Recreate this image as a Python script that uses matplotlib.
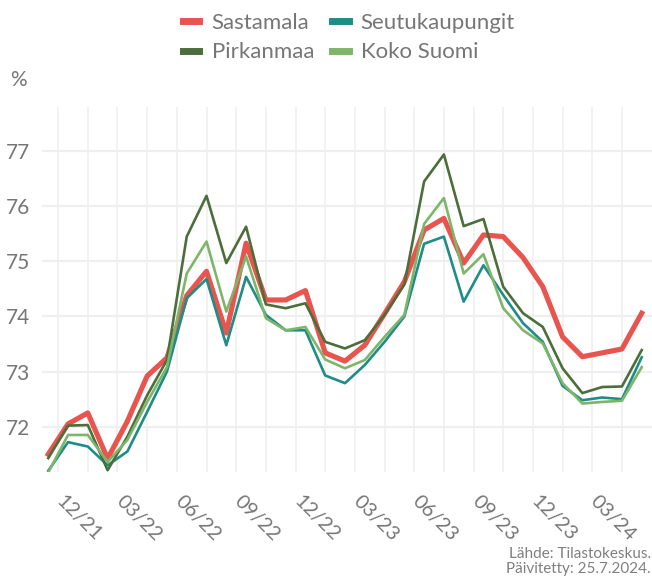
import matplotlib
matplotlib.use("Agg")
import matplotlib.pyplot as plt
from matplotlib.lines import Line2D
from matplotlib.transforms import ScaledTranslation

plt.rcParams['font.family'] = ['Lato', 'DejaVu Sans']

# Monthly employment rate (%), 12/2021 - 06/2024
months = ["12/21", "01/22", "02/22", "03/22", "04/22", "05/22", "06/22", "07/22",
          "08/22", "09/22", "10/22", "11/22", "12/22", "01/23", "02/23", "03/23",
          "04/23", "05/23", "06/23", "07/23", "08/23", "09/23", "10/23", "11/23",
          "12/23", "01/24", "02/24", "03/24", "04/24", "05/24", "06/24"]

sastamala = [71.50, 72.05, 72.25, 71.42, 72.10, 72.92, 73.25, 74.38, 74.82, 73.70,
             75.33, 74.30, 74.30, 74.47, 73.34, 73.19, 73.48, 74.05, 74.63, 75.57,
             75.78, 74.97, 75.48, 75.45, 75.07, 74.54, 73.63, 73.27, 73.34, 73.41,
             74.06]
seutukaupungit = [71.20, 71.72, 71.64, 71.30, 71.55, 72.27, 73.00, 74.33, 74.68, 73.48,
                  74.72, 74.03, 73.75, 73.75, 72.93, 72.79, 73.12, 73.54, 74.00, 75.32,
                  75.45, 74.27, 74.93, 74.39, 73.88, 73.54, 72.74, 72.48, 72.53, 72.50,
                  73.26]
pirkanmaa = [71.43, 72.02, 72.03, 71.21, 71.82, 72.57, 73.21, 75.45, 76.19, 74.97,
             75.63, 74.22, 74.15, 74.24, 73.54, 73.42, 73.57, 74.03, 74.58, 76.45,
             76.94, 75.64, 75.77, 74.54, 74.06, 73.81, 73.06, 72.61, 72.72, 72.73,
             73.39]
koko_suomi = [71.17, 71.85, 71.85, 71.36, 71.76, 72.45, 73.08, 74.78, 75.36, 74.09,
              75.09, 73.97, 73.75, 73.81, 73.22, 73.06, 73.21, 73.63, 74.03, 75.68,
              76.15, 74.78, 75.13, 74.15, 73.75, 73.51, 72.79, 72.42, 72.45, 72.47,
              73.08]

tick_labels = ["12/21", "03/22", "06/22", "09/22", "12/22",
               "03/23", "06/23", "09/23", "12/23", "03/24"]
y_ticks = [72, 73, 74, 75, 76, 77]

colors = {
    "Sastamala": "#E8544E",
    "Seutukaupungit": "#1F8C87",
    "Pirkanmaa": "#4C6E3B",
    "Koko Suomi": "#7DB66B",
}
text_color = "#767676"
grid_color = "#EFEFEF"

fig = plt.figure(figsize=(6.52, 5.79), dpi=100)
ax = fig.add_axes([0.064, 0.185, 0.936, 0.630])

x = list(range(len(months)))
ax.plot(x, sastamala, color=colors["Sastamala"], lw=3.7, zorder=3)
ax.plot(x, seutukaupungit, color=colors["Seutukaupungit"], lw=1.9, zorder=4)
ax.plot(x, pirkanmaa, color=colors["Pirkanmaa"], lw=1.9, zorder=5)
ax.plot(x, koko_suomi, color=colors["Koko Suomi"], lw=1.9, zorder=6)

ax.set_xlim(-0.33, 30.52)
ax.set_ylim(71.18, 77.80)

# quarterly ticks sit between months; minor grid halfway between them
major_pos = [0.5 + 3 * k for k in range(len(tick_labels))]
minor_pos = [2 + 3 * k for k in range(len(tick_labels))]
ax.set_xticks(major_pos)
ax.set_xticklabels(tick_labels)
ax.set_xticks(minor_pos, minor=True)
ax.set_yticks(y_ticks)

for p in major_pos + minor_pos:
    ax.axvline(p, color=grid_color, lw=1.1, zorder=1)
for v in y_ticks:
    ax.axhline(v, color=grid_color, lw=1.6, zorder=1)

for s in ax.spines.values():
    s.set_visible(False)
ax.tick_params(axis="both", which="both", length=0)
ax.tick_params(axis="y", labelsize=15, labelcolor=text_color, pad=8)
ax.tick_params(axis="x", labelsize=14.5, labelcolor=text_color, pad=15)
shift = ScaledTranslation(7 / 100, 0, fig.dpi_scale_trans)
for lab in ax.get_xticklabels():
    lab.set_rotation(-45)
    lab.set_ha("left")
    lab.set_va("top")
    lab.set_rotation_mode("anchor")
    lab.set_transform(lab.get_transform() + shift)

fig.text(0.015, 0.862, "%", fontsize=15, color=text_color, va="center")

order = ["Sastamala", "Pirkanmaa", "Seutukaupungit", "Koko Suomi"]
handles = [Line2D([0], [0], color=colors[n], lw=5) for n in order]
leg = fig.legend(handles, order, loc="upper center", bbox_to_anchor=(0.535, 1.012),
                 ncol=2, frameon=False, fontsize=16, handlelength=0.75,
                 handletextpad=0.55, columnspacing=0.8, labelspacing=0.42)
for t in leg.get_texts():
    t.set_color(text_color)

fig.text(0.998, 0.006, "Lähde: Tilastokeskus.\nPäivitetty: 25.7.2024.",
         ha="right", va="bottom", fontsize=11, color="#808080", linespacing=1.05)

fig.savefig("out.png", dpi=100)
